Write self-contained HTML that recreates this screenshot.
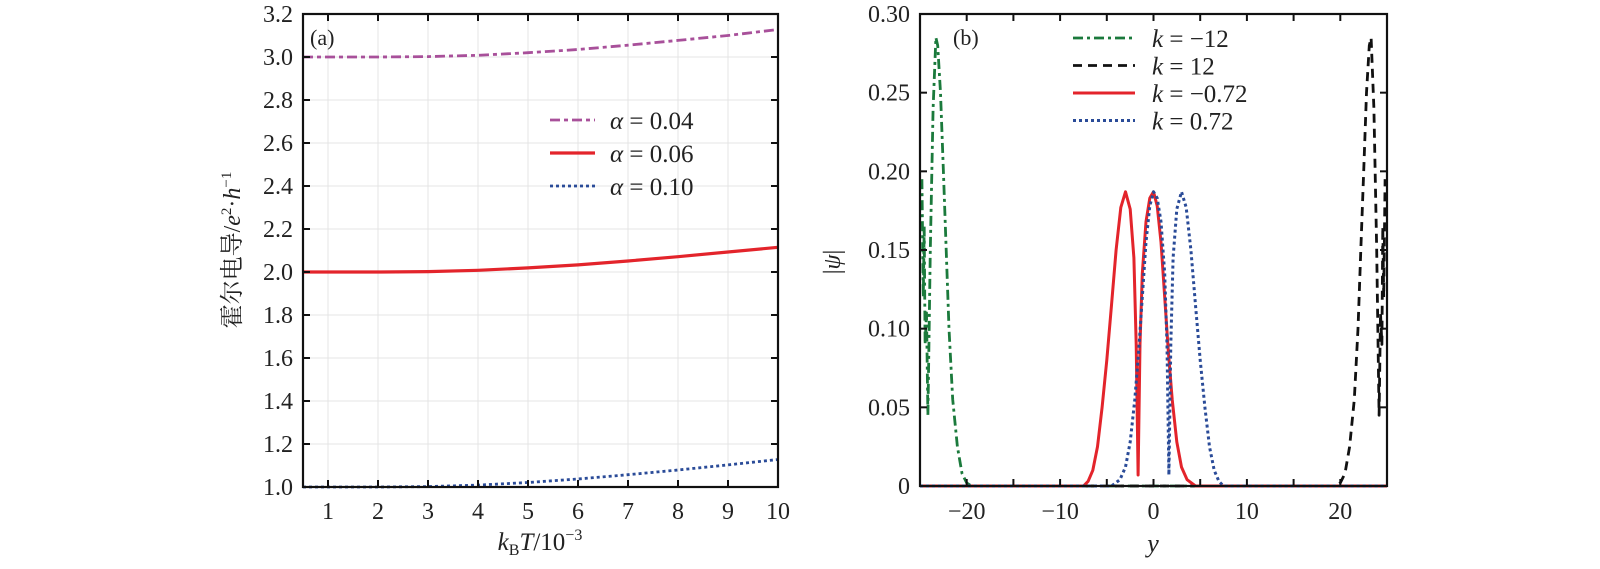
<!DOCTYPE html>
<html><head><meta charset="utf-8">
<style>
html,body{margin:0;padding:0;background:#fff;}
svg text{font-family:"Liberation Serif","Noto Serif CJK SC",serif;fill:#222;}
</style></head>
<body>
<svg id="chart" width="1600" height="564" viewBox="0 0 1600 564" xmlns="http://www.w3.org/2000/svg"></svg>
<script>
// ---------- Panel (a) data ----------
const aT = [0.5, 1, 2, 3, 4, 5, 6, 7, 8, 9, 10];
const aAlpha004 = [3.0, 3.0, 3.0, 3.002, 3.008, 3.02, 3.035, 3.055, 3.077, 3.10, 3.128];
const aAlpha006 = [2.0, 2.0, 2.0, 2.002, 2.008, 2.019, 2.033, 2.051, 2.071, 2.093, 2.115];
const aAlpha010 = [1.0, 1.0, 1.0, 1.002, 1.009, 1.021, 1.037, 1.057, 1.079, 1.103, 1.128];
const aXTicks = [1, 2, 3, 4, 5, 6, 7, 8, 9, 10];
const aYTicks = [1.0, 1.2, 1.4, 1.6, 1.8, 2.0, 2.2, 2.4, 2.6, 2.8, 3.0, 3.2];
const aLegend = ["α = 0.04", "α = 0.06", "α = 0.10"];
// ---------- Panel (b) data ----------
const bGreenY = [-24.8, -24.65, -24.55, -24.45, -24.3, -24.15, -23.9, -23.6, -23.3, -23.1, -22.8, -22.5, -22.2, -21.9, -21.5, -21.0, -20.5, -20.0, -19.5, 25];
const bGreenV = [0.195, 0.12, 0.165, 0.09, 0.11, 0.045, 0.15, 0.24, 0.285, 0.28, 0.25, 0.20, 0.15, 0.10, 0.055, 0.025, 0.008, 0.002, 0, 0];
const bBlackY = [-25, 19.5, 20.0, 20.5, 21.0, 21.5, 21.9, 22.2, 22.5, 22.8, 23.1, 23.3, 23.6, 23.9, 24.15, 24.3, 24.45, 24.55, 24.65, 24.8];
const bBlackV = [0, 0, 0.002, 0.008, 0.025, 0.055, 0.10, 0.15, 0.20, 0.25, 0.28, 0.285, 0.24, 0.15, 0.045, 0.11, 0.09, 0.165, 0.12, 0.195];
const bRedY = [-25, -7.5, -7, -6.5, -6, -5.5, -5, -4.5, -4, -3.5, -3, -2.5, -2.1, -1.85, -1.65, -1.45, -1.2, -0.8, -0.4, 0, 0.4, 0.8, 1.2, 1.6, 2, 2.5, 3, 3.6, 4.5, 25];
const bRedV = [0, 0, 0.003, 0.01, 0.025, 0.05, 0.08, 0.115, 0.15, 0.177, 0.187, 0.176, 0.145, 0.09, 0.007, 0.09, 0.135, 0.168, 0.183, 0.187, 0.178, 0.155, 0.12, 0.085, 0.055, 0.028, 0.012, 0.004, 0, 0];
const bBlueY = [-25, -4.5, -3.6, -3, -2.5, -2, -1.6, -1.2, -0.8, -0.4, 0, 0.4, 0.8, 1.2, 1.45, 1.65, 1.85, 2.1, 2.5, 3, 3.5, 4, 4.5, 5, 5.5, 6, 6.5, 7, 7.5, 25];
const bBlueV = [0, 0, 0.004, 0.012, 0.028, 0.055, 0.085, 0.12, 0.155, 0.178, 0.187, 0.183, 0.168, 0.135, 0.09, 0.007, 0.09, 0.145, 0.176, 0.187, 0.177, 0.15, 0.115, 0.08, 0.05, 0.025, 0.01, 0.003, 0, 0];
const bXTicks = [-20, -10, 0, 10, 20];
const bXMinor = [-25, -20, -15, -10, -5, 0, 5, 10, 15, 20, 25];
const bYTicks = [0, 0.05, 0.10, 0.15, 0.20, 0.25, 0.30];
const bLegend = ["k = −12", "k = 12", "k = −0.72", "k = 0.72"];

const NS = "http://www.w3.org/2000/svg";
const svg = document.getElementById('chart');
function mk(tag, attrs, parent) {
  const e = document.createElementNS(NS, tag);
  for (const k in attrs) e.setAttribute(k, attrs[k]);
  (parent || svg).appendChild(e);
  return e;
}

// ---------- Panel (a) axes ----------
const A = {l:303, r:778, t:14, b:487, x0:0.5, x1:10, y0:1.0, y1:3.2};
const ax = v => A.l + (v - A.x0) / (A.x1 - A.x0) * (A.r - A.l);
const ay = v => A.b - (v - A.y0) / (A.y1 - A.y0) * (A.b - A.t);
const gA = mk('g', {});



aXTicks.forEach(t => {
  const g = mk('line', {x1:ax(t), x2:ax(t), y1:A.t, y2:A.b, stroke:'#e4e4e4', 'stroke-width':1}, gA);
  
  
});
aYTicks.forEach(t => {
  const g = mk('line', {x1:A.l, x2:A.r, y1:ay(t), y2:ay(t), stroke:'#e4e4e4', 'stroke-width':1}, gA);
  
  
});

function series(xs, ys, fx, fy, color, dash, width, name, parent) {
  const d = xs.map((x, i) => (i ? 'L' : 'M') + fx(x).toFixed(1) + ' ' + fy(ys[i]).toFixed(1)).join(' ');
  const p = mk('path', {d, fill:'none', stroke:color, 'stroke-width':width, 'stroke-dasharray':dash, 'stroke-linejoin':'round'}, parent);
  
  
  return p;
}
series(aT, aAlpha004, ax, ay, '#a8509a', '10 4 4 4', 2.8, 'line-alpha-0.04', gA);
series(aT, aAlpha006, ax, ay, '#e3242b', '', 3.2, 'line-alpha-0.06', gA);
series(aT, aAlpha010, ax, ay, '#2a4b98', '3 3', 2.8, 'line-alpha-0.10', gA);

const frA = mk('rect', {x:A.l, y:A.t, width:A.r-A.l, height:A.b-A.t, fill:'none', stroke:'#111', 'stroke-width':2.2}, gA);



aXTicks.forEach(t => {
  mk('line', {x1:ax(t), x2:ax(t), y1:A.b, y2:A.b-7, stroke:'#111', 'stroke-width':2}, gA);
  mk('line', {x1:ax(t), x2:ax(t), y1:A.t, y2:A.t+7, stroke:'#111', 'stroke-width':2}, gA);
  const tx = mk('text', {x:ax(t), y:A.b+32, 'text-anchor':'middle', 'font-size':24}, gA);
  tx.textContent = String(t);
  
  
});
aYTicks.forEach(t => {
  mk('line', {x1:A.l, x2:A.l+7, y1:ay(t), y2:ay(t), stroke:'#111', 'stroke-width':2}, gA);
  mk('line', {x1:A.r, x2:A.r-7, y1:ay(t), y2:ay(t), stroke:'#111', 'stroke-width':2}, gA);
  const tx = mk('text', {x:A.l-10, y:ay(t)+8, 'text-anchor':'end', 'font-size':24}, gA);
  tx.textContent = t.toFixed(1);
  
  
});
const la = mk('text', {x:310, y:45, 'font-size':22}, gA);
la.textContent = '(a)';



const xlA = mk('text', {x:540, y:550, 'text-anchor':'middle', 'font-size':25}, gA);
xlA.innerHTML = '<tspan font-style="italic">k</tspan><tspan font-size="16" dy="5">B</tspan><tspan font-style="italic" dy="-5">T</tspan>/10<tspan font-size="16" dy="-10">−3</tspan>';



const ylA = mk('text', {transform:'translate(240,250) rotate(-90)', 'text-anchor':'middle', 'font-size':24}, gA);
ylA.innerHTML = '霍尔电导/<tspan font-style="italic">e</tspan><tspan font-size="15" dy="-9">2</tspan><tspan dy="9">·</tspan><tspan font-style="italic">h</tspan><tspan font-size="15" dy="-9">−1</tspan>';



const legAStyles = [['#a8509a','10 4 4 4',2.8],['#e3242b','',3.2],['#2a4b98','3 3',2.8]];
aLegend.forEach((lab, i) => {
  const y = 120 + i * 33;
  const g = mk('g', {}, gA);
  
  
  mk('line', {x1:550, x2:595, y1:y, y2:y, stroke:legAStyles[i][0], 'stroke-dasharray':legAStyles[i][1], 'stroke-width':legAStyles[i][2]}, g);
  const t = mk('text', {x:610, y:y+9, 'font-size':25}, g);
  t.innerHTML = '<tspan font-style="italic">α</tspan>' + lab.slice(1);
});

// ---------- Panel (b) axes ----------
const B = {l:920, r:1387, t:14, b:486, x0:-25, x1:25, y0:0, y1:0.30};
const bx = v => B.l + (v - B.x0) / (B.x1 - B.x0) * (B.r - B.l);
const by = v => B.b - (v - B.y0) / (B.y1 - B.y0) * (B.b - B.t);
const gB = mk('g', {});



series(bGreenY, bGreenV, bx, by, '#1b7a3c', '10 4 3 4', 2.8, 'line-k-minus-12', gB);
series(bBlackY, bBlackV, bx, by, '#111', '9 6', 2.8, 'line-k-12', gB);
series(bRedY, bRedV, bx, by, '#e3242b', '', 3, 'line-k-minus-0.72', gB);
series(bBlueY, bBlueV, bx, by, '#2a4b98', '3 3', 3, 'line-k-0.72', gB);

const frB = mk('rect', {x:B.l, y:B.t, width:B.r-B.l, height:B.b-B.t, fill:'none', stroke:'#111', 'stroke-width':2.2}, gB);


bXMinor.forEach(t => {
  mk('line', {x1:bx(t), x2:bx(t), y1:B.b, y2:B.b-7, stroke:'#111', 'stroke-width':2}, gB);
  mk('line', {x1:bx(t), x2:bx(t), y1:B.t, y2:B.t+7, stroke:'#111', 'stroke-width':2}, gB);
});
bXTicks.forEach(t => {
  const tx = mk('text', {x:bx(t), y:B.b+33, 'text-anchor':'middle', 'font-size':24}, gB);
  tx.textContent = t < 0 ? '−' + Math.abs(t) : String(t);
  
  
});
bYTicks.forEach(t => {
  mk('line', {x1:B.l, x2:B.l+7, y1:by(t), y2:by(t), stroke:'#111', 'stroke-width':2}, gB);
  mk('line', {x1:B.r, x2:B.r-7, y1:by(t), y2:by(t), stroke:'#111', 'stroke-width':2}, gB);
  const tx = mk('text', {x:B.l-10, y:by(t)+8, 'text-anchor':'end', 'font-size':24}, gB);
  tx.textContent = t === 0 ? '0' : t.toFixed(2);
  
  
});
const lb = mk('text', {x:953, y:45, 'font-size':22}, gB);
lb.textContent = '(b)';



const xlB = mk('text', {x:1153, y:552, 'text-anchor':'middle', 'font-size':26, 'font-style':'italic'}, gB);
xlB.textContent = 'y';


const ylB = mk('text', {transform:'translate(840,262) rotate(-90)', 'text-anchor':'middle', 'font-size':24}, gB);
ylB.innerHTML = '|<tspan font-style="italic">ψ</tspan>|';



const legBStyles = [['#1b7a3c','10 4 3 4',2.8],['#111','9 6',2.8],['#e3242b','',3],['#2a4b98','3 3',3]];
bLegend.forEach((lab, i) => {
  const y = 38 + i * 27.5;
  const g = mk('g', {}, gB);
  
  
  mk('line', {x1:1073, x2:1135, y1:y, y2:y, stroke:legBStyles[i][0], 'stroke-dasharray':legBStyles[i][1], 'stroke-width':legBStyles[i][2]}, g);
  const t = mk('text', {x:1152, y:y+9, 'font-size':25}, g);
  t.innerHTML = '<tspan font-style="italic">k</tspan>' + lab.slice(1);
});
</script>
</body></html>
